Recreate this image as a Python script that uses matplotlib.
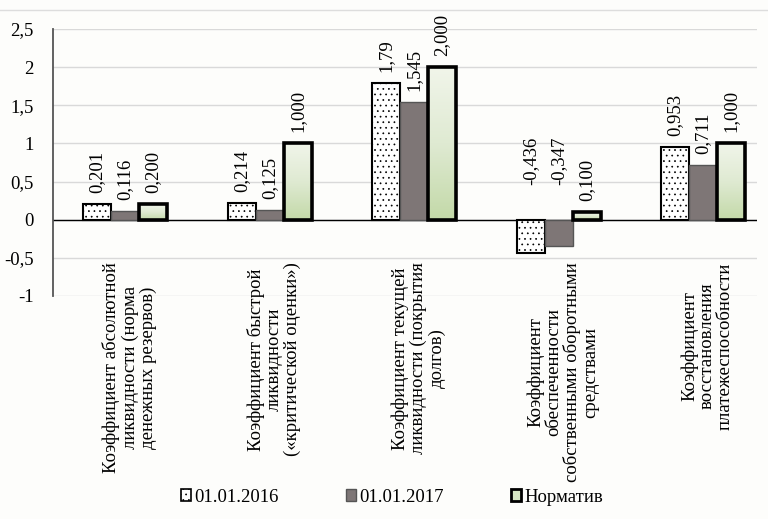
import matplotlib
matplotlib.use("Agg")
import matplotlib.pyplot as plt
import numpy as np
from matplotlib.patches import Patch
from matplotlib.lines import Line2D
import matplotlib.transforms as mtransforms
from matplotlib.colors import LinearSegmentedColormap

plt.rcParams['font.family'] = ['Liberation Serif', 'DejaVu Serif']
plt.rcParams['hatch.linewidth'] = 0.5

categories = [
    "Коэффициент абсолютной\nликвидности (норма\nденежных резервов)",
    "Коэффициент быстрой\nликвидности\n(«критической оценки»)",
    "Коэффициент текущей\nликвидности (покрытия\nдолгов)",
    "Коэффициент\nобеспеченности\nсобственными оборотными\nсредствами",
    "Коэффициент\nвосстановления\nплатежеспособности",
]
series_names = ["01.01.2016", "01.01.2017", "Норматив"]
v2016 = [0.201, 0.214, 1.79, -0.436, 0.953]
v2017 = [0.116, 0.125, 1.545, -0.347, 0.711]
vnorm = [0.200, 1.000, 2.000, 0.100, 1.000]
labels2016 = ["0,201", "0,214", "1,79", "-0,436", "0,953"]
labels2017 = ["0,116", "0,125", "1,545", "-0,347", "0,711"]
labelsnorm = ["0,200", "1,000", "2,000", "0,100", "1,000"]
yticks = [-1, -0.5, 0, 0.5, 1, 1.5, 2, 2.5]
yticklabels = ["-1", "-0,5", "0", "0,5", "1", "1,5", "2", "2,5"]

FS = 13.5
FSC = 13.5
bg = "#fdfdfb"
fig = plt.figure(figsize=(7.68, 5.19), dpi=100, facecolor=bg)
ax = fig.add_axes([53/768, 1-296/519, 704/768, 267/519])
ax.set_facecolor(bg)

x = np.arange(len(categories))
w = 0.194

b1 = ax.bar(x - w, v2016, w, facecolor="white", edgecolor="black", hatch="...", linewidth=1.5, zorder=3)
b2 = ax.bar(x, v2017, w, facecolor="#7e7676", edgecolor="#555555", linewidth=1.0, zorder=3)
b3 = ax.bar(x + w, vnorm, w, facecolor="none", edgecolor="black", linewidth=2.6, zorder=4)

# gradient fill for norm bars
grad = np.linspace(0, 1, 256).reshape(-1, 1)
cmap = LinearSegmentedColormap.from_list("g", ["#c3d9a8", "#dfead2", "#f1f5ea"])
for r in b3:
    x0, y0 = r.get_x(), r.get_y()
    ww, hh = r.get_width(), r.get_height()
    im = ax.imshow(grad, extent=[x0, x0 + ww, y0, y0 + hh], origin="lower",
                   cmap=cmap, aspect="auto", zorder=3.5)
    im.set_clip_path(r)

ax.set_xlim(-0.5, 4.374)
ax.set_ylim(-1, 2.5)
ax.set_yticks(yticks)
ax.set_yticklabels(yticklabels, fontsize=FS)
ax.tick_params(axis="y", length=0, pad=14)
ax.set_xticks([])
ax.yaxis.grid(True, color="#d9d9d9", linewidth=1.0, zorder=0)
ax.set_axisbelow(True)
ax.axhline(0, color="black", linewidth=1.0, zorder=2)
for s in ["top", "right", "bottom"]:
    ax.spines[s].set_visible(False)
ax.spines["left"].set_color("#555555")
ax.spines["left"].set_linewidth(1.3)

# value labels
def add_labels(bars, vals, labs):
    for r, v, t in zip(bars, vals, labs):
        cx = r.get_x() + r.get_width() / 2
        if v >= 0:
            off = mtransforms.offset_copy(ax.transData, fig=fig, x=0, y=8, units="points")
            ax.text(cx, v, t, rotation=90, ha="center", va="bottom", fontsize=FS,
                    transform=off, zorder=6)
        else:
            off = mtransforms.offset_copy(ax.transData, fig=fig, x=0, y=25, units="points")
            ax.text(cx, 0, t, rotation=90, ha="center", va="bottom", fontsize=FS,
                    transform=off, zorder=6)

add_labels(b1, v2016, labels2016)
add_labels(b2, v2017, labels2017)
add_labels(b3, vnorm, labelsnorm)

# category labels
for xi, c in zip(x, categories):
    ax.text(xi + 0.03, -0.56, c, rotation=90, ha="center", va="top", multialignment="center",
            fontsize=FSC, linespacing=1.08, zorder=6, clip_on=False)

# top faint border
fig.add_artist(Line2D([0, 1], [1 - 10/519, 1 - 10/519], transform=fig.transFigure,
                      color="#dddddd", linewidth=1.0))

handles = [
    Patch(facecolor="white", edgecolor="black", hatch="...", linewidth=1.2),
    Patch(facecolor="#7e7676", edgecolor="#555555", linewidth=1.0),
    Patch(facecolor="#d6e6c3", edgecolor="black", linewidth=2.0),
]
fig.legend(handles, series_names, loc="center", bbox_to_anchor=(392/768, 1 - 497/519),
           ncol=3, frameon=False, fontsize=FS, handlelength=0.55, handleheight=0.55,
           handletextpad=0.15, columnspacing=3.6)

fig.savefig("out.png", dpi=100, facecolor=bg)
